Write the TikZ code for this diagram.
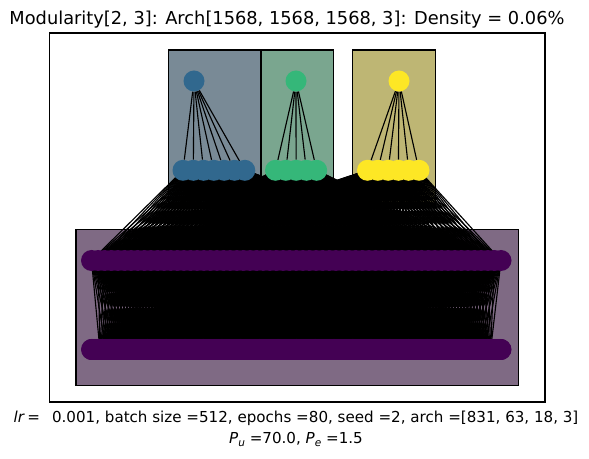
\documentclass[tikz,border=0pt]{standalone}
\usepackage{fontspec}
\setmainfont{DejaVu Sans}
\pgfdeclarelayer{boxes}
\pgfdeclarelayer{edges}
\pgfsetlayers{boxes,edges,main}
\definecolor{vpur}{HTML}{440154}
\definecolor{vblu}{HTML}{31688E}
\definecolor{vgrn}{HTML}{35B779}
\definecolor{vyel}{HTML}{FDE725}
\definecolor{bpur}{RGB}{127,106,132}
\definecolor{bblu}{RGB}{121,138,150}
\definecolor{bgrn}{RGB}{122,166,143}
\definecolor{byel}{RGB}{190,182,116}
\begin{document}
\begin{tikzpicture}[x=0.75pt,y=-0.75pt,
  nd/.style={circle,inner sep=0pt,minimum size=15.75pt,draw=none},
  edge/.style={line width=0.85pt,black},
  modbox/.style={draw=black,line width=0.8pt},
  ttl/.style={anchor=base,inner sep=0pt,font=\fontsize{13.35}{16}\selectfont},
  txt/.style={anchor=base,inner sep=0pt,font=\fontsize{11.33}{14}\selectfont}]
\useasboundingbox (0,0) rectangle (589,459);
% axes frame
\draw[line width=0.8pt] (49.3,33) rectangle (545,402);
% module boxes
\begin{pgfonlayer}{boxes}
\draw[modbox,fill=bpur] (76,229.3) rectangle (518.3,385.7);
\draw[modbox,fill=bblu] (168.3,50) rectangle (260.7,206);
\draw[modbox,fill=bgrn] (261,50) rectangle (333.3,206);
\draw[modbox,fill=byel] (352.3,50) rectangle (435.7,206);
\end{pgfonlayer}
% input layer (831)
\foreach \j in {0,...,830}{\node[nd,fill=vpur] (in\j) at ({91.5+\j*0.4933735},349.5) {};}
% hidden layer 1 (63)
\foreach \i in {0,...,62}{\node[nd,fill=vpur] (h\i) at ({91.5+\i*6.604839},260.5) {};}
% hidden layer 2 (18)
\foreach \k in {0,...,6}{\node[nd,fill=vblu] (c\k) at ({183+\k*10.3},170.3) {};}
\foreach \k in {7,...,11}{\node[nd,fill=vgrn] (c\k) at ({275.5+(\k-7)*10.3},170.3) {};}
\foreach \k in {12,...,17}{\node[nd,fill=vyel] (c\k) at ({367.5+(\k-12)*10.3},170.3) {};}
% outputs
\node[nd,fill=vblu] (o0) at (194,81) {};
\node[nd,fill=vgrn] (o1) at (296,81) {};
\node[nd,fill=vyel] (o2) at (399,81) {};
% connectors
\begin{pgfonlayer}{edges}
\foreach \i in {0,...,62}{\foreach \k in {0,...,66}{\pgfmathtruncatemacro\j{17+12*\k}\draw[edge] (h\i.center) -- (in\j.center);}}
\foreach \k in {0,...,17}{\foreach \i in {0,...,62}{\draw[edge] (c\k.center) -- (h\i.center);}}
\foreach \k in {0,...,6}{\draw[edge] (o0) -- (c\k);}
\foreach \k in {7,...,11}{\draw[edge] (o1) -- (c\k);}
\foreach \k in {12,...,17}{\draw[edge] (o2) -- (c\k);}
\end{pgfonlayer}
% texts
\node[ttl] (title) at (287,25) {Modularity[2, 3]: Arch[1568, 1568, 1568, 3]: Density = 0.06\%};
\node[txt] (xl1) at (296,422) {\textit{lr}\,=\, \ 0.001, batch size =512, epochs =80, seed =2, arch =[831, 63, 18, 3]};
\node[txt] (xl2) at (296,444) {\textit{P}\raisebox{-0.35ex}{\fontsize{7.9}{9}\selectfont\itshape u} =70.0, \textit{P}\raisebox{-0.35ex}{\fontsize{7.9}{9}\selectfont\itshape e} =1.5};
\end{tikzpicture}
\end{document}
